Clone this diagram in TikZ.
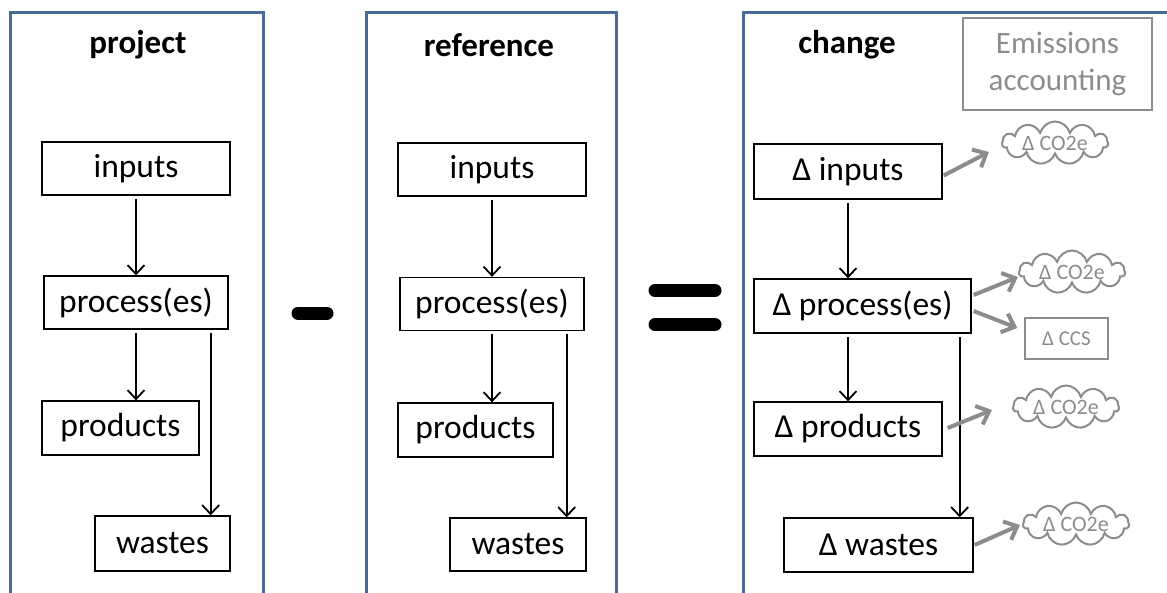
\documentclass[tikz,border=0pt]{standalone}
\usepackage{fontspec}
\setmainfont{Carlito}
\usetikzlibrary{arrows.meta,shapes.symbols,calc}
\definecolor{panelblue}{RGB}{74,107,154}
\definecolor{lightgray}{RGB}{140,140,140}
\tikzset{
  panel/.style={draw=panelblue,line width=3pt},
  box/.style={draw,line width=1.3pt,inner sep=0pt,font=\fontsize{33.5}{40}\selectfont},
  title/.style={font=\fontsize{33}{40}\selectfont\bfseries},
  flow/.style={line width=1.8pt,-{Straight Barb[length=9pt,width=17pt,line width=1.8pt]},shorten <=3pt},
  emit/.style={draw=lightgray,line width=4pt,-{Straight Barb[length=11pt,width=20pt,line width=4pt]}},
  cloudnode/.style={cloud,cloud puffs=11,cloud ignores aspect,draw=lightgray,line width=2pt,text=lightgray,inner sep=0pt,minimum width=106pt,minimum height=43pt,font=\fontsize{22}{26}\selectfont},
  graybox/.style={draw=lightgray,line width=1.5pt,text=lightgray,inner sep=0pt},
  opbar/.style={line width=13pt,line cap=round}
}
\begin{document}
\begin{tikzpicture}[x=1pt,y=-1pt]
\useasboundingbox (0,0) rectangle (1167,592);
\clip (0,0) rectangle (1167,592);
% panels
\draw[panel] (10,620) -- (10,12) -- (263,12) -- (263,620);
\draw[panel] (366,620) -- (366,12) -- (616,12) -- (616,620);
\draw[panel] (743,620) -- (743,12) -- (1180,12);
% titles
\node[title] (t1) at (138,45) {project};
\node[title] (t2) at (489,45) {reference};
\node[title] (t3) at (847,45) {change};
% project
\node[box,minimum width=188pt,minimum height=53pt] (in1) at (136,168.5) {inputs};
\node[box,minimum width=184pt,minimum height=53pt] (pr1) at (136,302.5) {process(es)};
\node[box,minimum width=157pt,minimum height=54pt] (pd1) at (120.5,428) {products};
\node[box,minimum width=135pt,minimum height=55pt] (ws1) at (162.5,543.5) {wastes};
\draw[flow] (in1.south) -- (pr1.north);
\draw[flow] (pr1.south) -- (pr1.south |- pd1.north);
\draw[flow] ([xshift=-18pt]pr1.south east) -- ([xshift=-18pt]pr1.south east |- ws1.north);
% reference
\node[box,minimum width=188pt,minimum height=53pt] (in2) at (492,169.5) {inputs};
\node[box,minimum width=184pt,minimum height=53pt] (pr2) at (492,304) {process(es)};
\node[box,minimum width=155pt,minimum height=54pt] (pd2) at (475.5,430) {products};
\node[box,minimum width=136pt,minimum height=53pt] (ws2) at (518,544.5) {wastes};
\draw[flow] (in2.south) -- (pr2.north);
\draw[flow] (pr2.south) -- (pr2.south |- pd2.north);
\draw[flow] ([xshift=-18pt]pr2.south east) -- ([xshift=-18pt]pr2.south east |- ws2.north);
% operators
\draw[opbar] (298,313) -- (327,313);
\draw[opbar] (655,290.5) -- (715,290.5);
\draw[opbar] (655,324.5) -- (715,324.5);
% change
\node[box,minimum width=188pt,minimum height=55pt] (in3) at (848,171.5) {Δ inputs};
\node[box,minimum width=217pt,minimum height=54pt] (pr3) at (862.5,306) {Δ process(es)};
\node[box,minimum width=188pt,minimum height=54pt] (pd3) at (848,429) {Δ products};
\node[box,minimum width=189pt,minimum height=54pt] (ws3) at (878.5,545) {Δ wastes};
\draw[flow] (in3.south) -- (in3.south |- pr3.north);
\draw[flow] (in3.south |- pr3.south) -- (in3.south |- pd3.north);
\draw[flow] ([xshift=-12pt]pr3.south east) -- ([xshift=-12pt]pr3.south east |- ws3.north);
% emissions accounting
\node[graybox,minimum width=189pt,minimum height=92pt,align=center,font=\fontsize{31}{37}\selectfont] (ea) at (1057.5,64) {Emissions\\accounting};
\node[cloudnode] (cl1) at (1055,143) {Δ CO2e};
\node[cloudnode] (cl2) at (1072,272) {Δ CO2e};
\node[cloudnode] (cl3) at (1066,407) {Δ CO2e};
\node[cloudnode] (cl4) at (1076,524) {Δ CO2e};
\node[graybox,minimum width=83pt,minimum height=41pt,font=\fontsize{21}{25}\selectfont] (ccs) at (1066.5,338.5) {Δ CCS};
\draw[emit] ([xshift=1pt,yshift=-4pt]in3.east) -- ([xshift=-12pt,yshift=-9pt]cl1.west);
\draw[emit] ([xshift=2pt,yshift=11pt]pr3.east) -- ([yshift=-5pt]cl2.west);
\draw[emit] ([xshift=2pt,yshift=-5pt]pr3.east) -- ([xshift=-7pt,yshift=10.5pt]ccs.west);
\draw[emit] ([xshift=5pt,yshift=1pt]pd3.east) -- ([xshift=-20pt,yshift=-3pt]cl3.west);
\draw[emit] ([xshift=1pt]ws3.east) -- ([xshift=-2pt,yshift=-1pt]cl4.west);
\end{tikzpicture}
\end{document}
